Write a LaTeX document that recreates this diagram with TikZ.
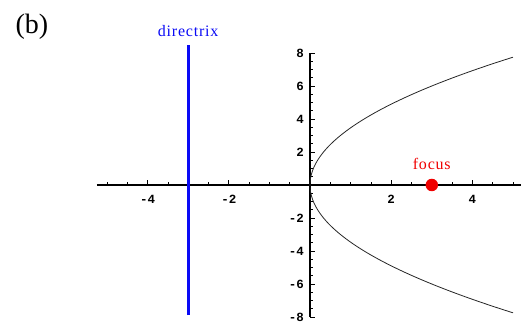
\documentclass[tikz,border=0pt]{standalone}
\usepackage{fontspec}
\setmainfont{Liberation Serif}
\newfontfamily\tickfont{Liberation Mono}
\newfontfamily\labfont[LetterSpace=5]{Liberation Serif}
\usetikzlibrary{positioning}
\definecolor{dirblue}{RGB}{10,10,245}
\definecolor{focusred}{RGB}{240,0,0}

\begin{document}
\begin{tikzpicture}[
    x=40.6pt, y=16.5pt,
    axis/.style={line width=1.3pt, black},
    tickmark/.style={line width=0.6pt, black},
    ticklab/.style={font=\fontsize{12.5}{12}\selectfont\tickfont\bfseries, inner sep=0pt},
    curve/.style={line width=0.8pt, black!85},
    dirline/.style={line width=3.2pt, draw=dirblue},
    dirlab/.style={font=\fontsize{16}{16}\selectfont\labfont, text=dirblue, inner sep=0pt},
    focusdot/.style={circle, fill=focusred, minimum size=12.5pt, inner sep=0pt},
    focuslab/.style={font=\fontsize{16}{16}\selectfont\labfont, text=focusred, inner sep=0pt},
    panellab/.style={font=\fontsize{28}{30}\selectfont, inner sep=0pt},
]
\useasboundingbox (-310pt,-138pt) rectangle (212pt,185pt);

% panel tag
\node[panellab] (panel) at (-278pt,158pt) {(b)};

%---------------------------------------------------------------
% axes with Mathematica-style ticks
%---------------------------------------------------------------
\coordinate (xl) at (-5.25,0);
\coordinate (xr) at (5.2,0);
\coordinate (yb) at (0,-8);
\coordinate (yt) at (0,8);
\draw[axis] (xl) -- (xr);
\draw[axis] (yb) -- (yt);

\foreach \t in {-5,-4.5,...,5} {
    \draw[tickmark] (\t,0) -- ++(0,3pt);
}
\foreach \t [count=\i] in {-4,-2,2,4} {
    \draw[tickmark] (\t,0) -- ++(0,5pt);
    \node[ticklab, yshift=-14.5pt] (xlab\i) at (\t,0) {\t};
}

\foreach \t in {-8,-7.5,...,8} {
    \draw[tickmark] (0,\t) -- ++(3pt,0);
}
\foreach \t [count=\i] in {-8,-6,-4,-2,2,4,6,8} {
    \draw[tickmark] (0,\t) -- ++(5pt,0);
    \node[ticklab, anchor=east, xshift=-6pt] (ylab\i) at (0,\t) {\t};
}

%---------------------------------------------------------------
% parabola y^2 = 12x
%---------------------------------------------------------------
\draw[curve] plot[domain=-7.746:7.746, samples=101, smooth]
    ({\x*\x/12}, \x);

%---------------------------------------------------------------
% directrix x = -3 and focus (3,0)
%---------------------------------------------------------------
\coordinate (dirtop) at (-3,8.485);
\coordinate (dirbot) at (-3,-7.88);
\draw[dirline] (dirbot) -- (dirtop);
\node[dirlab, above=8pt of dirtop] (dirname) {directrix};

\node[focusdot] (focus) at (3,0) {};
\node[focuslab, above=9pt of focus] (focusname) {focus};

\end{tikzpicture}
\end{document}
